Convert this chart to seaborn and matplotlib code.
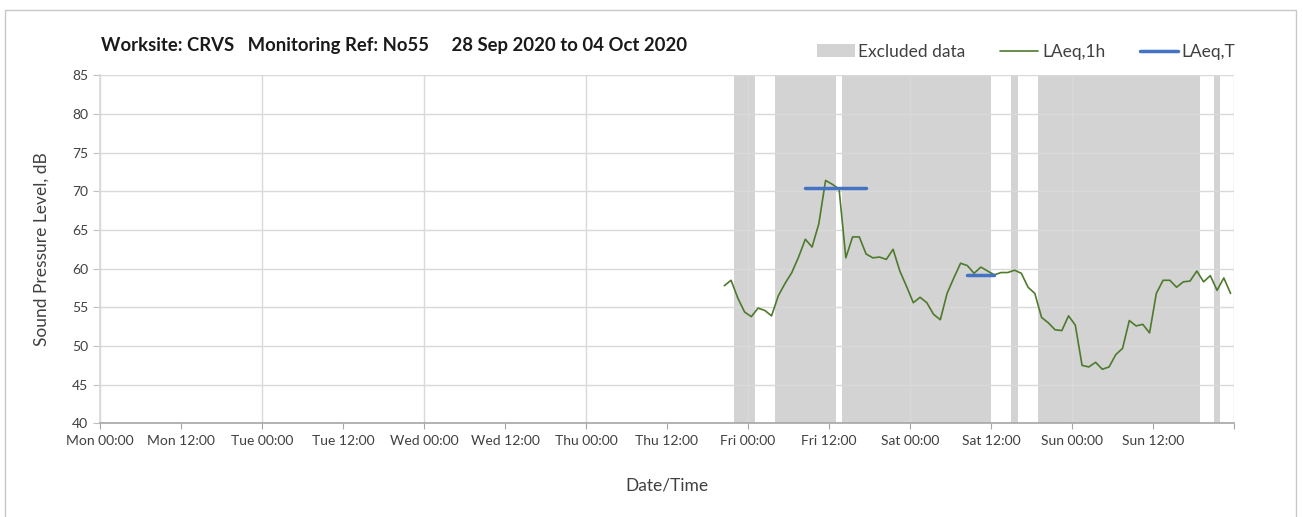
import pandas as pd
import matplotlib
matplotlib.use("Agg")
import matplotlib.pyplot as plt
import matplotlib.dates as mdates
from matplotlib.patches import Patch, Rectangle
from matplotlib.lines import Line2D
import seaborn as sns

# hourly LAeq,1h values, first reading Thu 01 Oct 20:30
first_reading = "2020-10-01 20:30"
laeq_1h = [57.8, 58.5, 56.2, 54.4, 53.8, 54.9, 54.6, 53.9, 56.5, 58.1,
           59.5, 61.5, 63.8, 62.8, 65.8, 71.4, 70.9, 70.3, 61.4, 64.1,
           64.1, 61.9, 61.4, 61.5, 61.2, 62.5, 59.7, 57.7, 55.6, 56.3,
           55.6, 54.1, 53.4, 56.8, 58.8, 60.7, 60.4, 59.4, 60.2, 59.7,
           59.2, 59.5, 59.5, 59.8, 59.4, 57.6, 56.8, 53.7, 53.0, 52.1,
           52.0, 53.9, 52.7, 47.5, 47.3, 47.9, 47.0, 47.3, 48.9, 49.7,
           53.3, 52.6, 52.8, 51.7, 56.8, 58.5, 58.5, 57.6, 58.3, 58.4,
           59.7, 58.3, 59.1, 57.2, 58.8, 56.8]

# LAeq,T periods: start, end, level
laeq_t_start = ["2020-10-02 08:30", "2020-10-03 08:30"]
laeq_t_end = ["2020-10-02 17:30", "2020-10-03 12:30"]
laeq_t_level = [70.4, 59.2]

# excluded data periods
excl_start = ["2020-10-01 22:00", "2020-10-02 04:00", "2020-10-02 14:00",
              "2020-10-03 15:00", "2020-10-03 19:00", "2020-10-04 21:00"]
excl_end = ["2020-10-02 01:00", "2020-10-02 13:00", "2020-10-03 12:00",
            "2020-10-03 16:00", "2020-10-04 19:00", "2020-10-04 22:00"]

week_start = pd.Timestamp("2020-09-28 00:00")
week_end = pd.Timestamp("2020-10-05 00:00")

GREEN = "#4e7a2c"
BLUE = "#4472c4"
GREY = "#d3d3d3"
TXT = "#404040"

df = pd.DataFrame({
    "time": pd.date_range(first_reading, periods=len(laeq_1h), freq="h"),
    "level": laeq_1h,
})
rows = []
for i, (s, e, v) in enumerate(zip(laeq_t_start, laeq_t_end, laeq_t_level)):
    rows.append({"time": pd.Timestamp(s), "level": v, "period": i})
    rows.append({"time": pd.Timestamp(e), "level": v, "period": i})
df_t = pd.DataFrame(rows)

sns.set_theme(style="white")
plt.rcParams["font.family"] = ["Lato", "DejaVu Sans"]

fig = plt.figure(figsize=(13.03, 5.17), dpi=100)
ax = fig.add_axes([0.0767, 0.181, 0.8703, 0.6735])

for s, e in zip(excl_start, excl_end):
    ax.axvspan(pd.Timestamp(s), pd.Timestamp(e), color=GREY, lw=0, zorder=0)

sns.lineplot(data=df, x="time", y="level", ax=ax, color=GREEN, lw=1.2, zorder=3)
sns.lineplot(data=df_t, x="time", y="level", units="period", estimator=None,
             ax=ax, color=BLUE, lw=2.5, zorder=4)

ax.set_xlim(week_start, week_end)
ax.set_ylim(40, 85)
ax.set_yticks(range(40, 90, 5))


def day_label(x, pos=None):
    t = mdates.num2date(x).replace(tzinfo=None)
    if t >= week_end:
        return ""
    return t.strftime("%a %H:%M")


ax.xaxis.set_major_locator(mdates.DayLocator())
ax.xaxis.set_major_formatter(plt.FuncFormatter(day_label))
ax.xaxis.set_minor_locator(mdates.HourLocator(byhour=[12]))
ax.xaxis.set_minor_formatter(plt.FuncFormatter(day_label))
ax.grid(True, which="major", axis="both", color="#d9d9d9", lw=1, zorder=1)
ax.set_axisbelow(True)

for side in ["top", "right"]:
    ax.spines[side].set_visible(False)
ax.spines["left"].set_color("#d9d9d9")
ax.spines["bottom"].set_color("#a6a6a6")
ax.spines["bottom"].set_linewidth(1.2)

ax.tick_params(axis="x", which="both", direction="out", length=4, width=0.8,
               color="#a6a6a6", labelsize=10, labelcolor=TXT, pad=4, bottom=True)
ax.tick_params(axis="y", direction="out", length=5, width=0.8, color="#bfbfbf",
               labelsize=10, labelcolor=TXT, left=True)

ax.set_xlabel("Date/Time", fontsize=12.5, color=TXT, labelpad=22)
ax.set_ylabel("Sound Pressure Level, dB", fontsize=12.5, color=TXT, labelpad=16)

fig.text(0.0775, 0.912, "Worksite: CRVS   Monitoring Ref: No55     28 Sep 2020 to 04 Oct 2020",
         fontsize=13.3, fontweight="bold", color="#1a1a1a", va="center")

handles = [Patch(facecolor=GREY, edgecolor="none", label="Excluded data"),
           Line2D([], [], color=GREEN, lw=1.2, label="LAeq,1h"),
           Line2D([], [], color=BLUE, lw=2.5, label="LAeq,T")]
ax.legend(handles=handles, loc="lower right", bbox_to_anchor=(1.015, 1.0), ncol=3,
          frameon=False, fontsize=12.5, handlelength=2.2, handletextpad=0.2,
          columnspacing=2.0, labelcolor=TXT)

fig.patches.append(Rectangle((5 / 1303, -0.05), 1291 / 1303, 1.05 - 10 / 517,
                             transform=fig.transFigure, fill=False,
                             edgecolor="#c8c8c8", lw=1))

fig.savefig("out.png", dpi=100)
